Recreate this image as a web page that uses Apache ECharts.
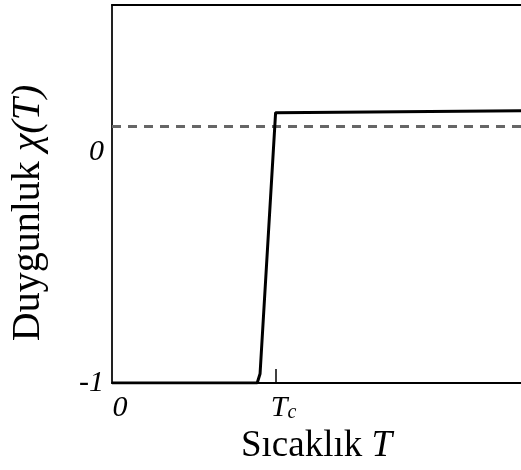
<!DOCTYPE html>
<html>
<head>
<meta charset="utf-8">
<script src="https://cdn.jsdelivr.net/npm/echarts@6/dist/echarts.min.js"></script>
<style>html,body{margin:0;padding:0;background:#fff;}#c{width:521px;height:470px;}</style>
</head>
<body>
<div id="c"></div>
<script>
// Data (schematic susceptibility curve)
var tempX = [0, 0.355, 0.362, 0.400, 0.63, 1.0];
var chiY = [-1, -1, -0.96, 0.170, 0.173, 0.178];
var refLineX = [0, 1.0];
var refLineY = [0.11, 0.11];
var xTickValues = [0, 0.4];
var xTickLabels = ['0', 'Tc'];
var yTickValues = [-1, 0];
var yTickLabels = ['-1', '0'];
var xMin = 0, xMax = 1.0, yMin = -1, yMax = 0.636;

function pairs(xs, ys) { return xs.map(function (x, i) { return [x, ys[i]]; }); }

var serif = '"Liberation Serif", "Times New Roman", serif';
var chart = echarts.init(document.getElementById('c'), null, { renderer: 'canvas' });
chart.setOption({
  animation: false,
  backgroundColor: '#fff',
  grid: { left: 112, right: 0, top: 5, bottom: 87, containLabel: false },
  xAxis: [{
    type: 'value', min: xMin, max: xMax, position: 'bottom',
    axisLine: { show: true, onZero: false, lineStyle: { color: '#000', width: 2 } },
    axisTick: { show: true, inside: true, length: 14, customValues: [xTickValues[1]], lineStyle: { color: '#000', width: 1.5 } },
    splitLine: { show: false },
    axisLabel: {
      show: true, customValues: xTickValues, margin: 10,
      formatter: function (v) {
        var i = xTickValues.indexOf(v);
        var s = xTickLabels[i];
        if (s === 'Tc') return '{t|T}{c|c}';
        return '{t|' + s + '}';
      },
      rich: {
        t: { fontFamily: serif, fontStyle: 'italic', fontSize: 30, color: '#000', padding: [0, 0, 0, 16] },
        c: { fontFamily: serif, fontStyle: 'italic', fontSize: 20, color: '#000', padding: [10, 0, 0, 0] }
      }
    },
    name: '{a|Sıcaklık }{b|T}', nameLocation: 'middle', nameGap: 40,
    nameTextStyle: {
      rich: {
        a: { fontFamily: serif, fontSize: 37, color: '#000' },
        b: { fontFamily: serif, fontSize: 37, fontStyle: 'italic', color: '#000' }
      }
    }
  }, {
    type: 'value', min: xMin, max: xMax, position: 'top',
    axisLine: { show: true, onZero: false, lineStyle: { color: '#000', width: 2 } },
    axisTick: { show: false }, axisLabel: { show: false }, splitLine: { show: false }
  }],
  yAxis: {
    type: 'value', min: yMin, max: yMax,
    axisLine: { show: true, onZero: false, lineStyle: { color: '#222', width: 2 } },
    axisTick: { show: false },
    splitLine: { show: false },
    axisLabel: {
      show: true, customValues: yTickValues, margin: 8,
      formatter: function (v) { return yTickLabels[yTickValues.indexOf(v)]; },
      fontFamily: serif, fontStyle: 'italic', fontSize: 30, color: '#000'
    },
    name: '{a|Duygunluk }{b|χ(T)}', nameLocation: 'middle', nameGap: 64, nameRotate: 90,
    nameTextStyle: {
      padding: [0, 38, 0, 0],
      rich: {
        a: { fontFamily: serif, fontSize: 40, color: '#000' },
        b: { fontFamily: serif, fontSize: 40, fontStyle: 'italic', color: '#000' }
      }
    }
  },
  series: [{
    type: 'line', data: pairs(refLineX, refLineY), showSymbol: false, silent: true,
    lineStyle: { color: '#666', width: 3, type: [9, 7] }, z: 2
  }, {
    type: 'line', data: pairs(tempX, chiY), showSymbol: false, silent: true,
    lineStyle: { color: '#000', width: 3 }, z: 3
  }]
});
</script>
</body>
</html>
